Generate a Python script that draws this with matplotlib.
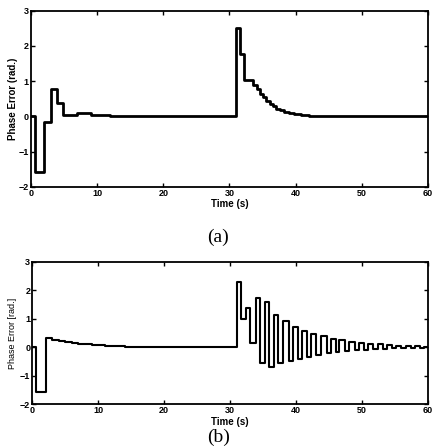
import matplotlib
matplotlib.use("Agg")
import matplotlib.pyplot as plt

# ---- data (a) ----
t_a = [0, 0.6, 2.0, 3.05, 4.0, 4.9, 6.0, 7.0, 8.0, 9.0, 10.0, 11, 12, 13, 14, 15,
       31.0, 31.6, 32.2, 33.6, 34.1, 34.6, 35.1, 35.6, 36.1, 36.6, 37.1, 37.7,
       38.3, 39.0, 39.8, 40.8, 42.0, 43.5, 45.5, 60]
v_a = [0, -1.57, -0.16, 0.77, 0.38, 0.05, 0.03, 0.09, 0.1, 0.05, 0.04, 0.03, 0.02,
       0.015, 0.01, 0.0,
       2.52, 1.77, 1.02, 0.90, 0.78, 0.65, 0.54, 0.45, 0.36, 0.29, 0.22, 0.17,
       0.12, 0.09, 0.06, 0.04, 0.02, 0.01, 0.0, 0.0]

# ---- data (b) ----
t_b = [0, 0.55, 2.0, 3.0, 4, 5, 6, 7, 8, 9, 10, 11, 12, 13, 14, 16, 18,
       31.1, 31.7, 32.4, 33.0, 33.9, 34.5, 35.3, 35.9, 36.7, 37.3, 38.1, 39.0,
       39.6, 40.3, 40.9, 41.7, 42.3, 43.1, 43.8, 44.7, 45.3, 46.1, 46.6, 47.4,
       48.1, 48.9, 49.5, 50.3, 50.9, 51.7, 52.4, 53.2, 53.8, 54.6, 55.2, 56.0,
       56.7, 57.4, 58.1, 58.8, 59.4, 60]
v_b = [0, -1.58, 0.31, 0.25, 0.22, 0.19, 0.16, 0.13, 0.10, 0.08, 0.07, 0.05, 0.04,
       0.03, 0.02, 0.01, 0.0,
       2.28, 0.98, 1.37, 0.16, 1.73, -0.55, 1.58, -0.68, 1.12, -0.57, 0.92, -0.50,
       0.71, -0.42, 0.57, -0.34, 0.46, -0.27, 0.39, -0.21, 0.30, -0.16, 0.25, -0.13,
       0.20, -0.10, 0.16, -0.08, 0.13, -0.07, 0.10, -0.05, 0.08, -0.04, 0.06, -0.03,
       0.04, -0.02, 0.03, -0.01, 0.02, 0.02]

x_ticks = [0, 10, 20, 30, 40, 50, 60]
y_ticks = [-2, -1, 0, 1, 2, 3]

plt.rcParams['font.family'] = ['Liberation Sans', 'DejaVu Sans']

fig = plt.figure(figsize=(4.37, 4.47), dpi=100)

def style(ax, lw_spine):
    ax.set_xlim(0, 60)
    ax.set_ylim(-2, 3)
    ax.set_xticks(x_ticks)
    ax.set_yticks(y_ticks)
    ax.tick_params(direction='in', top=True, right=True, length=3, width=1,
                   labelsize=6.5, pad=1.5)
    for lab in ax.get_xticklabels() + ax.get_yticklabels():
        lab.set_fontweight('bold')
    for s in ax.spines.values():
        s.set_linewidth(lw_spine)

ax1 = fig.add_axes([0.071, 0.582, 0.908, 0.394])
ax1.step(t_a, v_a, where='post', color='black', lw=2.0)
style(ax1, 1.3)
ax1.set_ylabel('Phase Error (rad.)', fontsize=7, fontweight='bold')
ax1.yaxis.set_label_coords(-0.034, 0.5)
ax1.set_xlabel('Time (s)', fontsize=7, fontweight='bold', labelpad=1)

ax2 = fig.add_axes([0.074, 0.096, 0.905, 0.318])
ax2.step(t_b, v_b, where='post', color='black', lw=1.5)
style(ax2, 1.3)
ax2.set_ylabel('Phase Error [rad.]', fontsize=6.5)
ax2.yaxis.set_label_coords(-0.038, 0.5)
ax2.set_xlabel('Time (s)', fontsize=7, fontweight='bold', labelpad=1)

fig.text(0.5, 0.47, '(a)', ha='center', va='center', fontsize=14,
         family=['Liberation Serif', 'DejaVu Serif'])
fig.text(0.5, 0.003, '(b)', ha='center', va='bottom', fontsize=14,
         family=['Liberation Serif', 'DejaVu Serif'])

fig.savefig('out.png', dpi=100)
